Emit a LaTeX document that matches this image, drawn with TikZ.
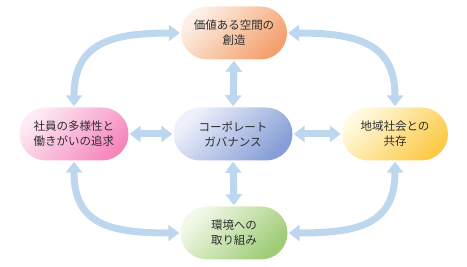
\documentclass[tikz,border=0pt]{standalone}
\usepackage{fontspec}
\setmainfont{Noto Sans CJK JP}
\usepackage{tikz}
\usetikzlibrary{
  arrows.meta,
  shapes.misc
}
\definecolor{linkBlue}{RGB}{189,215,238}
\definecolor{valueLight}{RGB}{253,240,230}
\definecolor{valueDark}{RGB}{243,160,110}
\definecolor{peopleLight}{RGB}{253,234,244}
\definecolor{peopleDark}{RGB}{246,135,188}
\definecolor{govLight}{RGB}{238,241,251}
\definecolor{govDark}{RGB}{135,158,214}
\definecolor{localLight}{RGB}{255,250,224}
\definecolor{localDark}{RGB}{252,202,72}
\definecolor{envLight}{RGB}{242,249,232}
\definecolor{envDark}{RGB}{158,204,118}
\colorlet{ink}{black!82}
\tikzset{
  link/.style={{Triangle[width=16pt,length=11pt]}-{Triangle[width=16pt,length=11pt]},
    draw=linkBlue, line width=7pt, shorten <=1pt, shorten >=1pt},
  pill/.style={
    rounded rectangle,
    minimum height=53pt,
    inner sep=0pt,
    align=center,
    text=ink,
    font=\fontsize{11.5}{15}\selectfont
  },
  valuebox/.style={pill, minimum width=106pt, top color=valueLight, bottom color=valueDark, shading angle=45},
  peoplebox/.style={pill, minimum width=109pt, top color=peopleLight, bottom color=peopleDark, shading angle=45},
  govbox/.style={pill, minimum width=119pt, top color=govLight, bottom color=govDark, shading angle=45},
  localbox/.style={pill, minimum width=106pt, top color=localLight, bottom color=localDark, shading angle=45},
  envbox/.style={pill, minimum width=107pt, top color=envLight, bottom color=envDark, shading angle=45}
}

\begin{document}
\begin{tikzpicture}[x=1pt,y=1pt]
  \useasboundingbox (0,0) rectangle (467,267);

  \node[valuebox] (value) at (234,234) {価値ある空間の\\創造};
  \node[peoplebox] (people) at (74,133) {社員の多様性と\\働きがいの追求};
  \node[govbox] (gov) at (233,133) {コーポレート\\ガバナンス};
  \node[localbox] (local) at (395,133) {地域社会との\\共存};
  \node[envbox] (env) at (234,34) {環境への\\取り組み};

  % spokes
  \draw[link] (gov.north) -- (value.south);
  \draw[link] (gov.south) -- (env.north);
  \draw[link] (gov.west) -- (people.east);
  \draw[link] (gov.east) -- (local.west);

  % outer ring
  \draw[link] (value.west) .. controls +(-72,0) and +(0,63) .. (people.north);
  \draw[link] (value.east) .. controls +(72,0) and +(0,63) .. (local.north);
  \draw[link] (env.west) .. controls +(-72,0) and +(0,-63) .. (people.south);
  \draw[link] (env.east) .. controls +(72,0) and +(0,-63) .. (local.south);
\end{tikzpicture}
\end{document}
